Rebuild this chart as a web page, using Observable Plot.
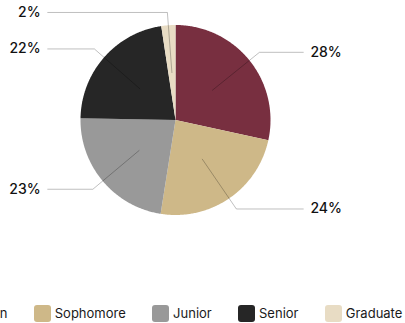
<!DOCTYPE html>
<html><head><meta charset="utf-8">
<script src="https://cdn.jsdelivr.net/npm/d3@7"></script>
<script src="https://cdn.jsdelivr.net/npm/@observablehq/plot@0.6"></script>
<style>
body{margin:0;background:#fff;font-family:Inter,"Noto Sans",sans-serif;overflow:hidden;width:405px;height:323px;position:relative}
#legend{position:absolute;left:-74px;top:303px;height:20px;display:flex;gap:26.3px;white-space:nowrap;font-size:13px;color:#1a1a1a;line-height:20px}
.item{display:flex;align-items:center;gap:4px}
.sw{width:17px;height:17px;border-radius:3px;display:inline-block}
</style></head><body><div id="chart"></div><div id="legend"></div>
<script>
const categories = ["Freshman","Sophomore","Junior","Senior","Graduate"];
const shares = [28.4, 24.1, 22.8, 22.3, 2.4];
const colors = ["#782F40","#CEB888","#999999","#262626","#E8DCC4"];

const R = 95, cx = 175, cy = 119.5, W = 405, H = 300;
const arcs = d3.pie().sort(null)(shares);
const slicePts = [];
arcs.forEach((a, i) => {
  slicePts.push({cat: categories[i], u: 0, v: 0});
  const n = Math.max(2, Math.ceil((a.endAngle - a.startAngle) / 0.01));
  for (let k = 0; k <= n; k++) {
    const t = a.startAngle + (a.endAngle - a.startAngle) * k / n;
    slicePts.push({cat: categories[i], u: Math.sin(t), v: Math.cos(t)});
  }
});
const leaders = [], labels = [];
arcs.forEach((a, i) => {
  const m = (a.startAngle + a.endAngle) / 2;
  const side = Math.sin(m) >= 0 ? 1 : -1;
  const e = {u: 1.135 * Math.sin(m), v: 1.135 * Math.cos(m)};
  leaders.push({cat: categories[i], u: 0.5 * Math.sin(m), v: 0.5 * Math.cos(m)});
  leaders.push({cat: categories[i], ...e});
  leaders.push({cat: categories[i], u: side * 1.345, v: e.v});
  labels.push({u: side * 1.42, v: e.v, side, text: Math.round(shares[i]) + "%"});
});

const chart = Plot.plot({
  width: W, height: H, margin: 0,
  x: {domain: [-cx / R, (W - cx) / R], range: [0, W], axis: null},
  y: {domain: [(cy - H) / R, cy / R], range: [H, 0], axis: null},
  color: {domain: categories, range: colors},
  style: {fontFamily: "Inter, 'Noto Sans', sans-serif", background: "#fff"},
  marks: [
    Plot.line(slicePts, {x: "u", y: "v", z: "cat", fill: "cat", stroke: null, curve: "linear-closed"}),
    Plot.line(leaders, {x: "u", y: "v", z: "cat", stroke: "#000", strokeOpacity: 0.25, strokeWidth: 1}),
    Plot.text(labels.filter(d => d.side > 0), {x: "u", y: "v", text: "text", textAnchor: "start", fontSize: 14, fontWeight: 500, fill: "#111"}),
    Plot.text(labels.filter(d => d.side < 0), {x: "u", y: "v", text: "text", textAnchor: "end", fontSize: 14, fontWeight: 500, fill: "#111"})
  ]
});
document.getElementById("chart").appendChild(chart);

const lg = document.getElementById("legend");
categories.forEach((c, i) => {
  const it = document.createElement("div"); it.className = "item";
  const sw = document.createElement("span"); sw.className = "sw"; sw.style.background = colors[i];
  const tx = document.createElement("span"); tx.textContent = c;
  it.appendChild(sw); it.appendChild(tx); lg.appendChild(it);
});
</script>
</body></html>
